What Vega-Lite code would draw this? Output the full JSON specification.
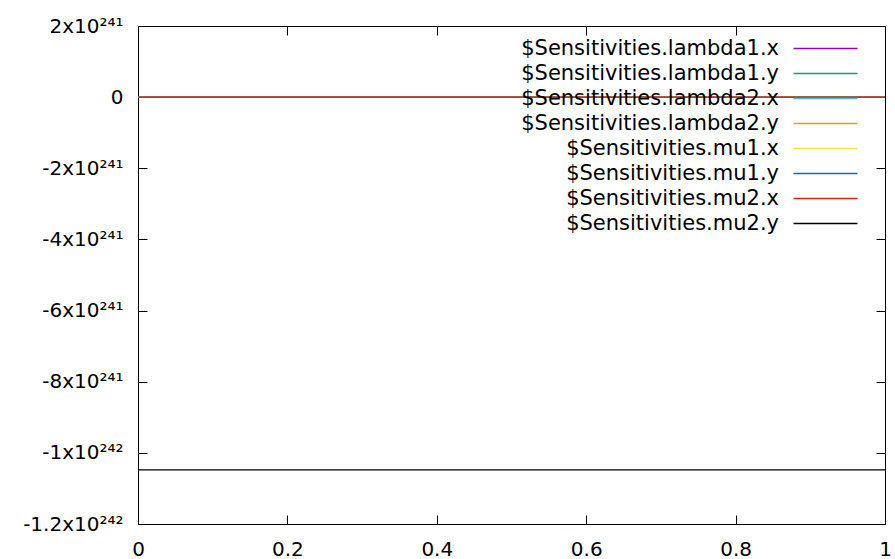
{
  "$schema": "https://vega.github.io/schema/vega-lite/v6.json",
  "width": 747,
  "height": 498,
  "autosize": "none",
  "padding": {"left": 138, "top": 26, "right": 10, "bottom": 35},
  "background": "white",
  "config": {
    "view": {"stroke": "black", "strokeWidth": 1},
    "font": "DejaVu Sans",
    "axis": {
      "domain": false,
      "grid": false,
      "tickColor": "black",
      "tickSize": -9,
      "tickWidth": 1,
      "labelFont": "DejaVu Sans",
      "labelFontSize": 20,
      "labelColor": "black",
      "labelFlush": false,
      "labelOverlap": false,
      "title": null
    },
    "legend": {
      "labelFont": "DejaVu Sans",
      "labelFontSize": 21,
      "labelColor": "black"
    }
  },
  "data": {
    "values": [
      {"series": "$Sensitivities.lambda1.x", "x": 0, "y": 0},
      {"series": "$Sensitivities.lambda1.x", "x": 1, "y": 0},
      {"series": "$Sensitivities.lambda1.y", "x": 0, "y": 0},
      {"series": "$Sensitivities.lambda1.y", "x": 1, "y": 0},
      {"series": "$Sensitivities.lambda2.x", "x": 0, "y": 0},
      {"series": "$Sensitivities.lambda2.x", "x": 1, "y": 0},
      {"series": "$Sensitivities.lambda2.y", "x": 0, "y": 0},
      {"series": "$Sensitivities.lambda2.y", "x": 1, "y": 0},
      {"series": "$Sensitivities.mu1.x", "x": 0, "y": 0},
      {"series": "$Sensitivities.mu1.x", "x": 1, "y": 0},
      {"series": "$Sensitivities.mu1.y", "x": 0, "y": 0},
      {"series": "$Sensitivities.mu1.y", "x": 1, "y": 0},
      {"series": "$Sensitivities.mu2.x", "x": 0, "y": 0},
      {"series": "$Sensitivities.mu2.x", "x": 1, "y": 0},
      {"series": "$Sensitivities.mu2.y", "x": 0, "y": -1.048e242},
      {"series": "$Sensitivities.mu2.y", "x": 1, "y": -1.048e242}
    ]
  },
  "layer": [
    {
      "mark": {"type": "line", "strokeWidth": 1.2},
      "encoding": {
        "x": {
          "field": "x", "type": "quantitative",
          "scale": {"domain": [0, 1], "nice": false, "zero": false},
          "axis": {"orient": "bottom", "values": [0, 0.2, 0.4, 0.6, 0.8, 1], "format": "~g", "labelPadding": 24}
        },
        "y": {
          "field": "y", "type": "quantitative",
          "scale": {"domain": [-1.2e242, 2e241], "nice": false, "zero": false},
          "axis": {
            "orient": "left",
            "values": [-1.2e242, -1e242, -8e241, -6e241, -4e241, -2e241, 0, 2e241],
            "labelPadding": 24,
            "labelBaseline": "middle",
            "labelExpr": "datum.value == 0 ? '0' : replace(format(datum.value / pow(10, floor(log(abs(datum.value)) / LN10 + 1e-9)), '.2~g'), '−', '-') + 'x10' + (floor(log(abs(datum.value)) / LN10 + 1e-9) == 242 ? '²⁴²' : '²⁴¹')"
          }
        },
        "color": {
          "field": "series", "type": "nominal",
          "scale": {
            "domain": ["$Sensitivities.lambda1.x", "$Sensitivities.lambda1.y", "$Sensitivities.lambda2.x", "$Sensitivities.lambda2.y", "$Sensitivities.mu1.x", "$Sensitivities.mu1.y", "$Sensitivities.mu2.x", "$Sensitivities.mu2.y"],
            "range": ["#9400d3", "#009e73", "#56b4e9", "#e69f00", "#f0e442", "#0072b2", "#e51e10", "#000000"]
          },
          "legend": {
            "orient": "none",
            "legendX": 677,
            "legendY": 12,
            "title": null,
            "padding": 0,
            "symbolType": "M-4,0H4",
            "symbolSize": 256,
            "symbolStrokeWidth": 1.5,
            "symbolOpacity": 1,
            "labelAlign": "right",
            "labelBaseline": "middle",
            "labelOffset": -57,
            "rowPadding": 3,
            "labelLimit": 0
          }
        }
      }
    },
    {
      "mark": {"type": "line", "opacity": 0},
      "encoding": {
        "x": {
          "field": "x", "type": "quantitative",
          "scale": {"domain": [0, 1], "nice": false, "zero": false},
          "axis": {"orient": "top", "values": [0, 0.2, 0.4, 0.6, 0.8, 1], "labels": false}
        },
        "y": {
          "field": "y", "type": "quantitative",
          "scale": {"domain": [-1.2e242, 2e241], "nice": false, "zero": false},
          "axis": {"orient": "right", "values": [-1.2e242, -1e242, -8e241, -6e241, -4e241, -2e241, 0, 2e241], "labels": false}
        },
        "detail": {"field": "series", "type": "nominal"}
      }
    }
  ],
  "resolve": {"axis": {"x": "independent", "y": "independent"}}
}
